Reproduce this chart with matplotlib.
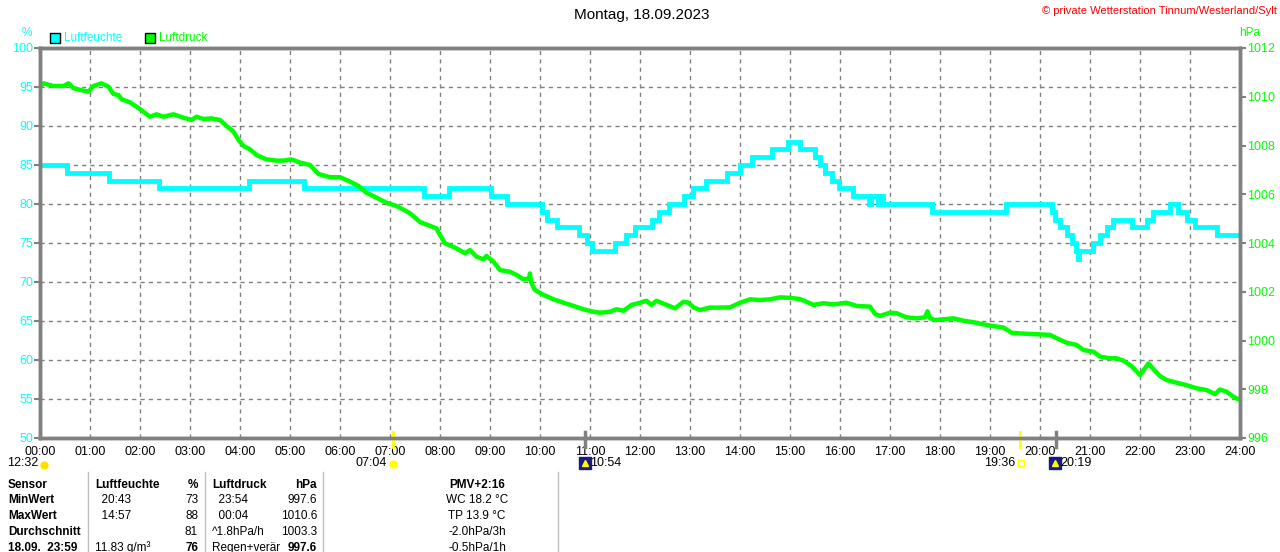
import matplotlib
matplotlib.use('Agg')
import matplotlib.pyplot as plt
from matplotlib.lines import Line2D
from matplotlib.patches import Rectangle
from matplotlib.transforms import blended_transform_factory

plt.rcParams['font.family'] = ['Liberation Sans', 'DejaVu Sans']

# Luftfeuchte (%) - step changes, hour of day
hum_hours = [0.00, 0.53, 1.37, 2.37, 4.17, 5.27, 7.67, 8.17, 9.03, 9.33,
             10.03, 10.13, 10.33, 10.77, 10.93, 11.03, 11.50, 11.72, 11.90, 12.23,
             12.37, 12.57, 12.87, 13.05, 13.32, 13.73, 14.00, 14.23, 14.64, 14.95,
             15.20, 15.50, 15.60, 15.70, 15.83, 15.97, 16.26, 16.58, 16.62, 16.76,
             16.80, 16.86, 17.84, 19.33, 20.24, 20.30, 20.40, 20.54, 20.64, 20.72,
             20.75, 20.78, 21.06, 21.20, 21.34, 21.46, 21.84, 22.14, 22.26, 22.60,
             22.76, 22.94, 23.10, 23.54, 24.00]
hum_values = [85, 84, 83, 82, 83, 82, 81, 82, 81, 80,
              79, 78, 77, 76, 75, 74, 75, 76, 77, 78,
              79, 80, 81, 82, 83, 84, 85, 86, 87, 88,
              87, 86, 85, 84, 83, 82, 81, 80, 81, 80,
              81, 80, 79, 80, 79, 78, 77, 76, 75, 74,
              73, 74, 75, 76, 77, 78, 77, 78, 79, 80,
              79, 78, 77, 76, 76]

# Luftdruck (hPa)
p_hours = [0.00, 0.07, 0.27, 0.47, 0.57, 0.67, 0.87, 0.97, 1.07, 1.23,
           1.37, 1.47, 1.57, 1.63, 1.80, 2.00, 2.20, 2.33, 2.47, 2.67,
           2.87, 3.03, 3.13, 3.27, 3.43, 3.60, 3.73, 3.87, 3.97, 4.07,
           4.20, 4.33, 4.53, 4.73, 4.87, 5.03, 5.20, 5.40, 5.57, 5.80,
           6.00, 6.20, 6.37, 6.53, 6.73, 6.93, 7.13, 7.40, 7.60, 7.80,
           7.93, 8.00, 8.10, 8.33, 8.50, 8.60, 8.73, 8.87, 8.93, 9.07,
           9.20, 9.40, 9.53, 9.67, 9.78, 9.80, 9.82, 9.90, 10.07, 10.27,
           10.47, 10.67, 10.87, 11.07, 11.20, 11.40, 11.53, 11.67, 11.83, 12.00,
           12.13, 12.23, 12.33, 12.53, 12.70, 12.87, 12.97, 13.07, 13.20, 13.40,
           13.60, 13.80, 14.00, 14.20, 14.40, 14.60, 14.80, 15.00, 15.20, 15.33,
           15.47, 15.67, 15.87, 16.13, 16.33, 16.60, 16.70, 16.80, 17.00, 17.13,
           17.33, 17.53, 17.70, 17.75, 17.80, 17.90, 18.07, 18.27, 18.47, 18.67,
           18.87, 19.07, 19.27, 19.43, 19.60, 19.80, 20.00, 20.20, 20.37, 20.53,
           20.73, 20.87, 21.07, 21.20, 21.40, 21.53, 21.67, 21.83, 22.00, 22.10,
           22.17, 22.27, 22.40, 22.53, 22.73, 22.93, 23.13, 23.33, 23.50, 23.60,
           23.73, 23.87, 24.00]
p_values = [1010.41, 1010.55, 1010.44, 1010.44, 1010.55, 1010.35, 1010.25, 1010.21, 1010.44, 1010.55,
            1010.41, 1010.11, 1010.07, 1009.90, 1009.77, 1009.49, 1009.18, 1009.28, 1009.18, 1009.28,
            1009.14, 1009.05, 1009.18, 1009.09, 1009.11, 1009.05, 1008.80, 1008.57, 1008.23, 1007.98,
            1007.84, 1007.61, 1007.43, 1007.38, 1007.38, 1007.43, 1007.30, 1007.20, 1006.83, 1006.70,
            1006.70, 1006.52, 1006.34, 1006.06, 1005.86, 1005.65, 1005.52, 1005.22, 1004.86, 1004.70,
            1004.60, 1004.33, 1003.99, 1003.78, 1003.58, 1003.71, 1003.44, 1003.33, 1003.47, 1003.23,
            1002.89, 1002.82, 1002.69, 1002.51, 1002.55, 1002.75, 1002.40, 1002.07, 1001.87, 1001.69,
            1001.55, 1001.42, 1001.28, 1001.18, 1001.14, 1001.18, 1001.28, 1001.22, 1001.46, 1001.55,
            1001.63, 1001.46, 1001.63, 1001.46, 1001.32, 1001.59, 1001.55, 1001.36, 1001.25, 1001.35,
            1001.35, 1001.36, 1001.55, 1001.69, 1001.66, 1001.69, 1001.77, 1001.75, 1001.70, 1001.59,
            1001.46, 1001.53, 1001.48, 1001.55, 1001.42, 1001.39, 1001.09, 1001.01, 1001.14, 1001.12,
            1000.95, 1000.91, 1000.95, 1001.20, 1000.92, 1000.84, 1000.87, 1000.91, 1000.81, 1000.75,
            1000.66, 1000.59, 1000.53, 1000.32, 1000.29, 1000.27, 1000.25, 1000.23, 1000.06, 999.91,
            999.82, 999.61, 999.54, 999.34, 999.27, 999.27, 999.17, 998.95, 998.58, 998.86,
            999.06, 998.82, 998.54, 998.38, 998.27, 998.17, 998.04, 997.97, 997.80, 997.99,
            997.90, 997.69, 997.56]

hour_labels = ['%02d:00' % h for h in range(25)]
hum_ticks = list(range(50, 101, 5))
p_ticks = list(range(996, 1013, 2))

# sun / moon events (hour)
sunrise, sunset = 7.0667, 19.6
moonrise, moonset = 10.9, 20.3167

# table below the chart
table_rows = [
    ['Sensor', 'Luftfeuchte', '%', 'Luftdruck', 'hPa', 'PMV+2:16'],
    ['MinWert', '  20:43', '73', '  23:54', '997.6', 'WC 18.2 °C'],
    ['MaxWert', '  14:57', '88', '  00:04', '1010.6', 'TP 13.9 °C'],
    ['Durchschnitt', '', '81', '^1.8hPa/h', '1003.3', '-2.0hPa/3h'],
    ['18.09.  23:59', '11.83 g/m³', '76', 'Regen+verär', '997.6', '-0.5hPa/1h'],
]

CYAN = '#00FFFF'
GREEN = '#00FF00'
GRAY = '#808080'
W, H = 1280, 552


def px(x, y):
    return x / W, 1 - y / H


fig = plt.figure(figsize=(12.8, 5.52), dpi=100)
fig.patch.set_facecolor('white')
ax = fig.add_axes([40 / W, 1 - 438 / H, 1200 / W, 390 / H])
ax2 = ax.twinx()

ax.plot(hum_hours, hum_values, drawstyle='steps-post', color=CYAN, lw=3.5, solid_joinstyle='miter')
ax2.plot(p_hours, p_values, color=GREEN, lw=3.2)

ax.set_xlim(0, 24)
ax.set_ylim(50, 100)
ax2.set_ylim(996, 1012)
ax.set_xticks(range(25))
ax.set_xticklabels(hour_labels)
ax.set_yticks(hum_ticks)
ax2.set_yticks(p_ticks)
ax.grid(True, color=GRAY, linestyle=(0, (3, 3)), lw=1)

for a in (ax, ax2):
    for s in a.spines.values():
        s.set_color(GRAY)
        s.set_linewidth(2.5)
ax.tick_params(axis='x', length=0, pad=6, labelsize=9, colors='black')
ax.tick_params(axis='y', length=4, width=1.5, color=GRAY, pad=1, labelsize=9, labelcolor=CYAN)
ax2.tick_params(axis='y', length=4, width=1.5, color=GRAY, pad=1, labelsize=9, labelcolor=GREEN)

# event ticks on the time axis
trans = blended_transform_factory(ax.transData, ax.transAxes)
for h, c, w in [(sunrise, '#FFFF00', 2), (sunset, '#FFFF00', 2), (moonrise, GRAY, 2.5), (moonset, GRAY, 2.5)]:
    ax.plot([h, h], [-0.023, 0.015], color=c, lw=w, transform=trans, clip_on=False, zorder=5)

# header texts
fig.text(*px(642, 15), 'Montag, 18.09.2023', ha='center', va='center', fontsize=11)
fig.text(*px(1277, 11), '© private Wetterstation Tinnum/Westerland/Sylt', ha='right', va='center',
         fontsize=8, color='red')
fig.text(*px(27, 33), '%', ha='center', va='center', fontsize=8.5, color=CYAN)
fig.text(*px(1250, 33), 'hPa', ha='center', va='center', fontsize=8.5, color=GREEN)

# legend
for x0, c, label in [(50, CYAN, 'Luftfeuchte'), (145, GREEN, 'Luftdruck')]:
    fig.add_artist(Rectangle(px(x0, 43), 10 / W, 10 / H, facecolor=c, edgecolor='black', lw=1,
                             transform=fig.transFigure))
    fig.text(*px(x0 + 14, 38), label, ha='left', va='center', fontsize=8.5, color=c)

# sun / moon labels under the axis
fig.text(*px(38, 463), '12:32', ha='right', va='center', fontsize=9)
fig.add_artist(Line2D([44 / W], [1 - 465 / H], marker='o', ms=5, color='#FFE000', transform=fig.transFigure))
fig.text(*px(387, 463), '07:04', ha='right', va='center', fontsize=9)
fig.add_artist(Line2D([393 / W], [1 - 464 / H], marker='o', ms=5, color='#FFFF00', transform=fig.transFigure))
fig.text(*px(1015, 463), '19:36', ha='right', va='center', fontsize=9)
fig.add_artist(Line2D([1021 / W], [1 - 463 / H], marker='s', ms=4, mfc='none', mec='#FFFF00',
                      transform=fig.transFigure))
for xm, lab in [(585, '10:54'), (1055, '20:19')]:
    fig.add_artist(Line2D([xm / W], [1 - 463 / H], marker='s', ms=8, color='#1A1A80', transform=fig.transFigure))
    fig.add_artist(Line2D([xm / W], [1 - 463 / H], marker='^', ms=4, color='#FFFF00', transform=fig.transFigure))
    fig.text(*px(xm + 5, 463), lab, ha='left', va='center', fontsize=9)

# table
row_y = [485, 500, 516, 532, 548]
for i, row in enumerate(table_rows):
    bold = 'bold' if i == 0 else 'normal'
    last_bold = 'bold' if i in (0, 4) else 'normal'
    y = row_y[i]
    fig.text(*px(8, y), row[0], ha='left', va='center', fontsize=8.5, fontweight='bold')
    fig.text(*px(95, y), row[1], ha='left', va='center', fontsize=8.5, fontweight=bold)
    fig.text(*px(198, y), row[2], ha='right', va='center', fontsize=8.5, fontweight=last_bold)
    fig.text(*px(212, y), row[3], ha='left', va='center', fontsize=8.5, fontweight=bold)
    fig.text(*px(317, y), row[4], ha='right', va='center', fontsize=8.5, fontweight=last_bold)
    fig.text(*px(477, y), row[5], ha='center', va='center', fontsize=8.5, fontweight=bold)

for xs in [88, 205, 323, 558]:
    fig.add_artist(Line2D([xs / W, xs / W], [1 - 472 / H, 0], color='#C0C0C0', lw=1, transform=fig.transFigure))

fig.savefig('out.png', dpi=100)
